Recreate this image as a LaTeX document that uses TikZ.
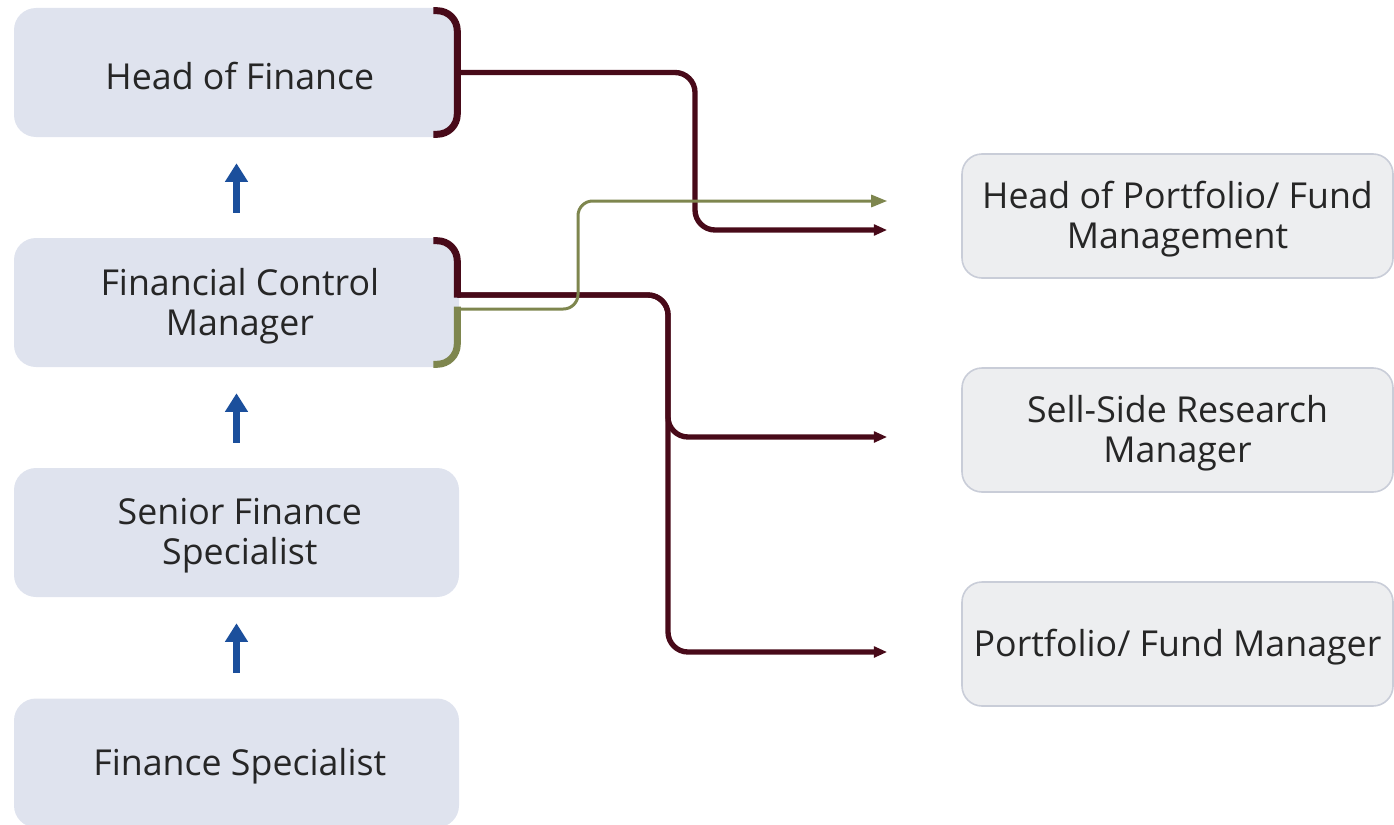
\documentclass[tikz,border=0pt]{standalone}
\usepackage{fontspec}
\setmainfont{Open Sans}
\usetikzlibrary{arrows.meta,calc}
\definecolor{leftfill}{HTML}{DFE3EE}
\definecolor{rightfill}{HTML}{EDEEF0}
\definecolor{rightdraw}{HTML}{C9CDD8}
\definecolor{maroon}{HTML}{480A19}
\definecolor{olive}{HTML}{7E864E}
\definecolor{upblue}{HTML}{1B4F9C}
\definecolor{txt}{HTML}{262626}
\begin{document}
\begin{tikzpicture}[x=0.75pt,y=-0.75pt,
  boxtext/.style={font=\fontsize{26.8}{30}\selectfont, text=txt, align=center,
    inner sep=0pt, yshift=-2.5pt},
  lbox/.style={rectangle, rounded corners=16.5pt, fill=leftfill,
    minimum width=333.75pt, minimum height=96.75pt, inner sep=0pt,
    label={[boxtext, xshift=2.5pt]center:#1}},
  rbox/.style={rectangle, rounded corners=15pt, fill=rightfill, draw=rightdraw,
    line width=1.2pt, minimum width=323.25pt, minimum height=93pt, inner sep=0pt,
    label={[boxtext]center:#1}},
  promote/.style={draw=upblue, line width=5.25pt,
    -{Triangle[length=14pt,width=16.5pt]}, shorten <=18.75pt, shorten >=19.5pt},
  bracketline/.style={line width=5.25pt, rounded corners=15pt},
  link/.style={draw=maroon, line width=4pt, rounded corners=15pt,
    -{Triangle[length=10pt,width=8pt]}},
  sidelink/.style={draw=olive, line width=2.25pt, rounded corners=11pt,
    -{Triangle[length=12pt,width=9pt]}}]
\useasboundingbox (0,0) rectangle (1394,824);

% career ladder on the left
\node[lbox={Head of Finance}] (hf) at (236.5,72.5) {};
\node[lbox={Financial Control\\Manager}] (fcm) at (236.5,302.5) {};
\node[lbox={Senior Finance\\Specialist}] (sfs) at (236.5,532.5) {};
\node[lbox={Finance Specialist}] (fs) at (236.5,763) {};

\draw[promote] (fcm.north) -- (hf.south);
\draw[promote] (sfs.north) -- (fcm.south);
\draw[promote] (fs.north) -- (sfs.south);

% possible moves on the right
\node[rbox={Head of Portfolio/ Fund\\Management}] (hpf) at (1177.5,216) {};
\node[rbox={Sell-Side Research\\Manager}] (ssr) at (1177.5,430) {};
\node[rbox={Portfolio/ Fund Manager}] (pfm) at (1177.5,644) {};

% brackets on the right edge of the source boxes
\draw[bracketline, maroon] ($(hf.north east)+(-26,3)$) -- ($(hf.north east)+(-2,3)$)
  -- ($(hf.south east)+(-2,-3)$) -- ($(hf.south east)+(-26,-3)$);
\draw[bracketline, maroon] ($(fcm.north east)+(-26,3)$) -- ($(fcm.north east)+(-2,3)$)
  -- ($(fcm.east)+(-2,-5)$);
\draw[bracketline, olive] ($(fcm.east)+(-2,4)$) -- ($(fcm.south east)+(-2,-3)$)
  -- ($(fcm.south east)+(-26,-3)$);

% connectors
\coordinate (hfout)  at ($(hf.east)+(-2,0)$);
\coordinate (fcmout) at ($(fcm.east)+(-2,-7.5)$);
\coordinate (fcmalt) at ($(fcm.east)+(-2,6.5)$);

\draw[link] (hfout) -- (695,0 |- hfout) -- (695,230)
  -- ($(hpf.west)+(-74,14)$);
\draw[link] (fcmout) -- (668,0 |- fcmout) -- (668,437)
  -- ($(ssr.west)+(-74,7)$);
\draw[link] (fcmout) -- (668,0 |- fcmout) -- (668,652)
  -- ($(pfm.west)+(-74,8)$);
\draw[sidelink] (fcmalt) -- (578,0 |- fcmalt) -- (578,201)
  -- ($(hpf.west)+(-74,-15)$);
\end{tikzpicture}
\end{document}
